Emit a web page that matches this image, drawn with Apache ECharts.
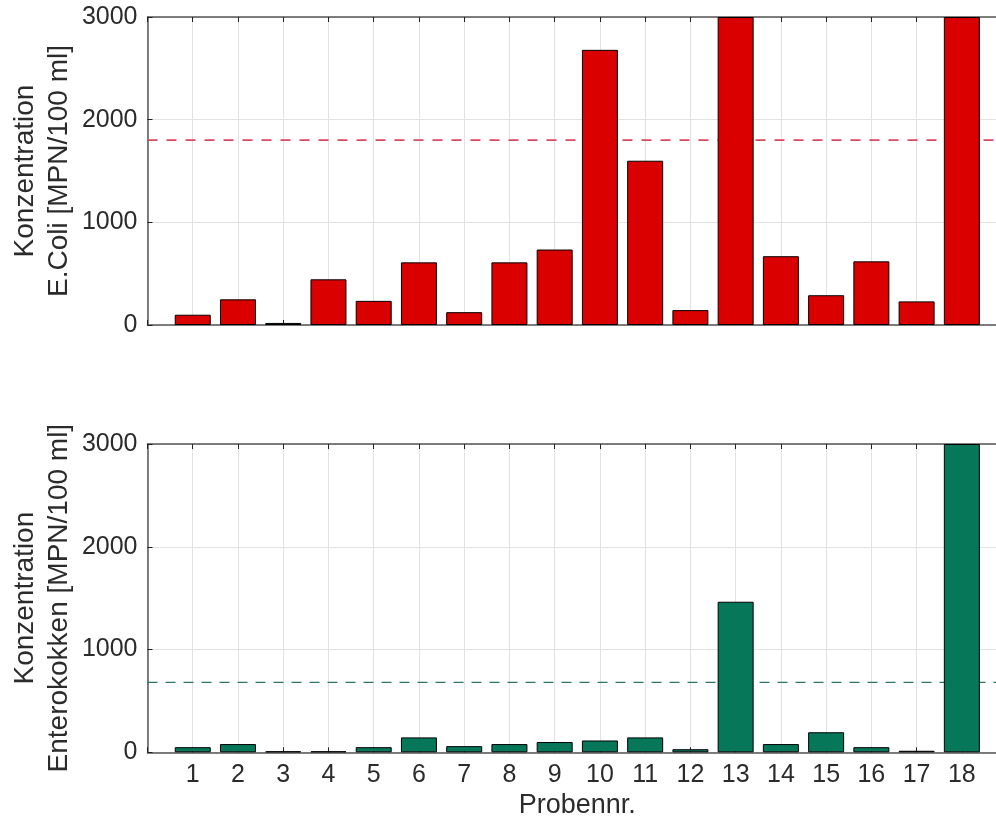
<!DOCTYPE html>
<html>
<head>
<meta charset="utf-8">
<script src="https://cdn.jsdelivr.net/npm/echarts@6/dist/echarts.min.js"></script>
<style>
html,body{margin:0;padding:0;background:#fff;}
#chart{width:996px;height:824px;}
</style>
</head>
<body>
<div id="chart"></div>
<script>
const categories = [1,2,3,4,5,6,7,8,9,10,11,12,13,14,15,16,17,18];
const ecoli = [100,250,20,445,235,610,125,610,735,2680,1600,145,3000,670,290,620,230,3000];
const entero = [50,80,10,10,50,145,60,80,100,115,145,30,1465,80,195,50,15,3000];
const ecoliLimit = 1800;
const enteroLimit = 680;
const yTicks = [0,1000,2000,3000];
const xRange = [0,19];
const yLabelTop = 'Konzentration\nE.Coli [MPN/100 ml]';
const yLabelBottom = 'Konzentration\nEnterokokken [MPN/100 ml]';
const xLabel = 'Probennr.';

const FONT = '"Liberation Sans", Arial, sans-serif';
const TXT = '#2b2b2b';
const AXC = '#555555';

function xAxes(gridIndex, showLabels) {
  const base = {
    type: 'value', gridIndex: gridIndex, min: xRange[0], max: xRange[1], interval: 1,
    axisLine: {show: true, onZero: false, lineStyle: {color: AXC, width: 1.5}},
    axisTick: {show: true, inside: true, length: 5, lineStyle: {color: '#222', width: 1}}
  };
  return [
    Object.assign({}, base, {
      position: 'bottom',
      splitLine: {show: true, lineStyle: {color: '#e2e2e2', width: 1}},
      axisLabel: {
        show: showLabels, margin: 10, fontSize: 25, color: TXT, fontFamily: FONT,
        formatter: v => (categories.indexOf(v) >= 0 ? String(v) : '')
      },
      name: showLabels ? xLabel : '',
      nameLocation: 'middle', nameGap: 40, nameMoveOverlap: false,
      nameTextStyle: {fontSize: 27, color: TXT, fontFamily: FONT}
    }),
    Object.assign({}, base, {
      position: 'top',
      splitLine: {show: false},
      axisLabel: {show: false}
    })
  ];
}

function yAxis(gridIndex, name) {
  return {
    type: 'value', gridIndex: gridIndex, min: yTicks[0], max: yTicks[yTicks.length-1], interval: 1000,
    axisLine: {show: true, lineStyle: {color: AXC, width: 1.5}},
    axisTick: {show: true, inside: true, length: 5, lineStyle: {color: '#222'}},
    splitLine: {show: true, lineStyle: {color: '#e2e2e2', width: 1}},
    axisLabel: {margin: 10, fontSize: 25, color: TXT, fontFamily: FONT, formatter: v => String(v)},
    name: name, nameLocation: 'middle', nameRotate: 90, nameGap: 71, nameMoveOverlap: false,
    nameTextStyle: {fontSize: 28, color: TXT, fontFamily: FONT, lineHeight: 34, align: 'center'}
  };
}

function bars(xi, yi, values, color) {
  return {
    type: 'bar', xAxisIndex: xi, yAxisIndex: yi, barWidth: 36, z: 3,
    data: values.map((v, i) => [categories[i], v]),
    itemStyle: {color: color, borderColor: '#000', borderWidth: 1},
    clip: true, silent: true
  };
}

function limitLine(xi, yi, value, color, width, dash) {
  return {
    type: 'line', xAxisIndex: xi, yAxisIndex: yi, z: 2, symbol: 'none', silent: true,
    data: [[xRange[0], value], [xRange[1], value]],
    lineStyle: {color: color, width: width, type: dash}
  };
}

const chart = echarts.init(document.getElementById('chart'), null, {renderer: 'canvas'});
chart.setOption({
  animation: false,
  backgroundColor: '#ffffff',
  grid: [
    {left: 147.5, top: 17, width: 859.6, height: 308, containLabel: false, outerBoundsMode: 'none'},
    {left: 147.5, top: 444, width: 859.6, height: 308.3, containLabel: false, outerBoundsMode: 'none'}
  ],
  xAxis: [].concat(xAxes(0, false), xAxes(1, true)),
  yAxis: [yAxis(0, yLabelTop), yAxis(1, yLabelBottom)],
  series: [
    limitLine(0, 0, ecoliLimit, '#d9485e', 1.8, [10, 9]),
    bars(0, 0, ecoli, '#db0000'),
    limitLine(2, 1, enteroLimit, '#2f7460', 1.3, [10, 8]),
    bars(2, 1, entero, '#07775a')
  ]
});
</script>
</body>
</html>
